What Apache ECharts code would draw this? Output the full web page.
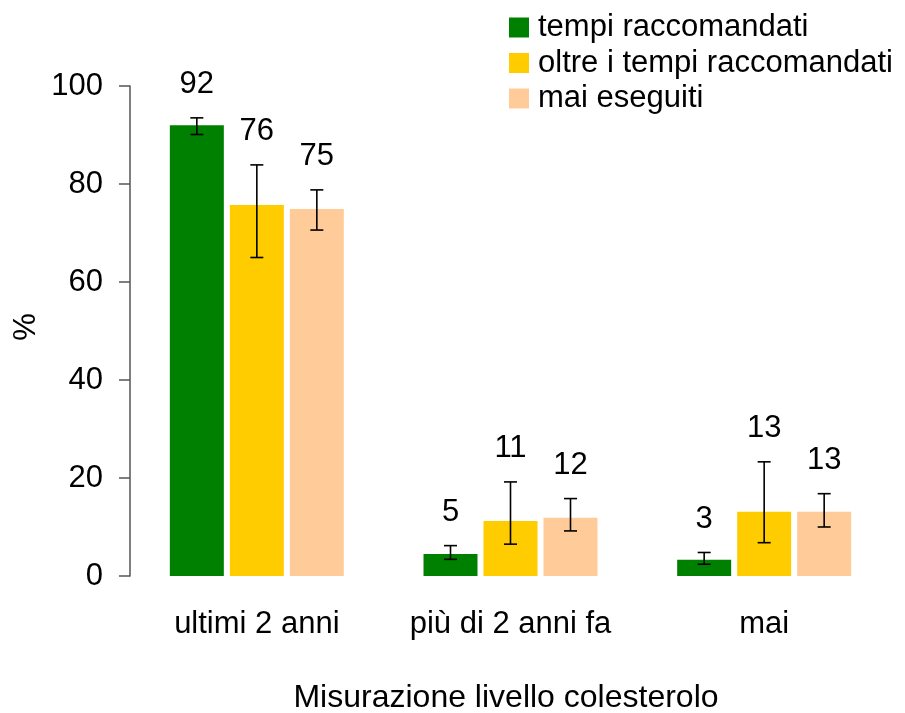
<!DOCTYPE html>
<html>
<head>
<meta charset="utf-8">
<script src="https://cdn.jsdelivr.net/npm/echarts@6/dist/echarts.min.js"></script>
<style>
html,body{margin:0;padding:0;background:#fff;}
#chart{width:905px;height:713px;}
</style>
</head>
<body>
<div id="chart"></div>
<script>
const categories = ['ultimi 2 anni', 'più di 2 anni fa', 'mai'];
const seriesNames = ['tempi raccomandati', 'oltre i tempi raccomandati', 'mai eseguiti'];
const yTicks = [0, 20, 40, 60, 80, 100];

const recValues = [92.0, 4.5, 3.3];
const recLow = [90.1, 3.4, 2.4];
const recHigh = [93.5, 6.2, 4.8];
const recLabels = ['92', '5', '3'];

const beyondValues = [75.7, 11.2, 13.1];
const beyondLow = [65.0, 6.5, 6.8];
const beyondHigh = [83.9, 19.2, 23.3];
const beyondLabels = ['76', '11', '13'];

const neverValues = [74.9, 11.9, 13.1];
const neverLow = [70.6, 9.2, 10.0];
const neverHigh = [78.8, 15.8, 16.8];
const neverLabels = ['75', '12', '13'];

const colors = ['#008000', '#FFCC00', '#FFCC99'];
const FONT = "'Liberation Sans', Arial, sans-serif";
const BAR_W = 54, BAR_STEP = 60, CAP = 6.5, LABEL_GAP = 18;

function errSeries(idx, low, high, labels) {
  const offset = (idx - 1) * BAR_STEP;
  return {
    type: 'custom',
    z: 5,
    silent: true,
    data: categories.map((c, i) => [i, low[i], high[i]]),
    renderItem: function (params, api) {
      const ci = api.value(0);
      const lo = api.coord([ci, api.value(1)]);
      const hi = api.coord([ci, api.value(2)]);
      const x = lo[0] + offset;
      const ls = { stroke: '#000', lineWidth: 1.6 };
      return {
        type: 'group',
        children: [
          { type: 'line', shape: { x1: x, y1: lo[1], x2: x, y2: hi[1] }, style: ls },
          { type: 'line', shape: { x1: x - CAP, y1: lo[1], x2: x + CAP, y2: lo[1] }, style: ls },
          { type: 'line', shape: { x1: x - CAP, y1: hi[1], x2: x + CAP, y2: hi[1] }, style: ls },
          { type: 'text', style: { x: x, y: hi[1] - LABEL_GAP, text: labels[params.dataIndex], textAlign: 'center', textVerticalAlign: 'bottom', font: '31px ' + FONT, fill: '#000' } }
        ]
      };
    }
  };
}

const chart = echarts.init(document.getElementById('chart'), null, { renderer: 'canvas' });
chart.setOption({
  animation: false,
  backgroundColor: '#fff',
  textStyle: { fontFamily: FONT },
  grid: { left: 130, right: 14, top: 86, bottom: 137, containLabel: false },
  legend: {
    orient: 'vertical',
    left: 504,
    top: 7,
    itemWidth: 20,
    itemHeight: 20,
    itemGap: 4.5,
    icon: 'rect',
    data: seriesNames,
    textStyle: { fontSize: 31, lineHeight: 30, color: '#000', fontFamily: FONT, padding: [0, 0, 0, 4] }
  },
  xAxis: {
    type: 'category',
    data: categories,
    axisLine: { show: false },
    axisTick: { show: false },
    axisLabel: { fontSize: 31, color: '#000', margin: 33, interval: 0, fontFamily: FONT }
  },
  yAxis: {
    type: 'value',
    min: yTicks[0],
    max: yTicks[yTicks.length - 1],
    interval: 20,
    axisLine: { show: true, lineStyle: { color: '#555', width: 1.5 } },
    axisTick: { show: true, length: 11, lineStyle: { color: '#555', width: 1.5 } },
    axisLabel: { fontSize: 31, color: '#000', margin: 27, fontFamily: FONT },
    splitLine: { show: false }
  },
  graphic: [
    { type: 'text', x: 26, y: 327, rotation: Math.PI / 2, style: { x: 0, y: 0, text: '%', font: '31px ' + FONT, fill: '#000', textAlign: 'center', textVerticalAlign: 'middle' } },
    { type: 'text', x: 506, y: 698, style: { x: 0, y: 0, text: 'Misurazione livello colesterolo', font: '32px ' + FONT, fill: '#000', textAlign: 'center', textVerticalAlign: 'middle' } }
  ],
  series: [
    { name: seriesNames[0], type: 'bar', data: recValues, barWidth: BAR_W, barGap: '11.1%', itemStyle: { color: colors[0] } },
    { name: seriesNames[1], type: 'bar', data: beyondValues, barWidth: BAR_W, barGap: '11.1%', itemStyle: { color: colors[1] } },
    { name: seriesNames[2], type: 'bar', data: neverValues, barWidth: BAR_W, barGap: '11.1%', itemStyle: { color: colors[2] } },
    errSeries(0, recLow, recHigh, recLabels),
    errSeries(1, beyondLow, beyondHigh, beyondLabels),
    errSeries(2, neverLow, neverHigh, neverLabels)
  ]
});
</script>
</body>
</html>
